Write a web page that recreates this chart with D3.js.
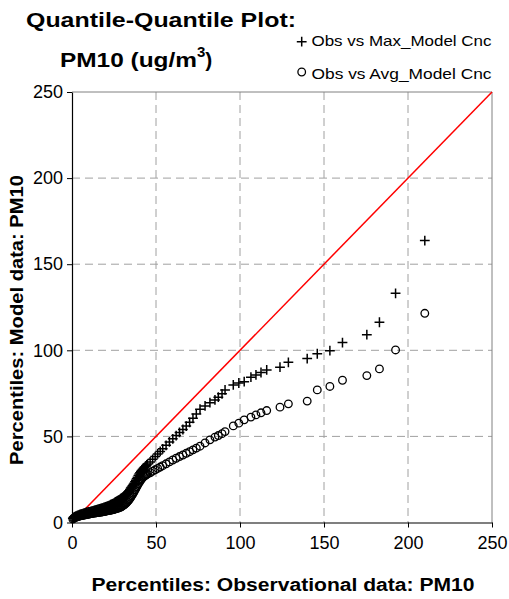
<!DOCTYPE html>
<html>
<head>
<meta charset="utf-8">
<script src="https://cdn.jsdelivr.net/npm/d3@7"></script>
<style>
  body { margin: 0; background: #fff; }
  svg text { font-family: "Liberation Sans", Arial, sans-serif; fill: #000; }
  .grid line { stroke: #a0a0a0; stroke-width: 1; stroke-dasharray: 8,5; }
  .axis path, .axis line { stroke: #000; }
  .axis text { font-size: 18px; }
</style>
</head>
<body>
<div id="chart"></div>
<script>
// observed percentiles (x) and the two model percentile series (y)
var obsPct = [0.5, 1, 1.5, 2, 2.5, 3, 3.5, 4, 4.5, 5, 5.5, 6, 6.5, 7, 7.5, 8, 8.5, 9, 9.5, 10,
	10.5, 11, 11.5, 12, 12.5, 13, 13.5, 14, 14.5, 15, 15.5, 16, 16.5, 17, 17.5, 18, 18.5, 19, 19.5, 20,
	20.5, 21, 21.5, 22, 22.5, 23, 23.5, 24, 24.5, 25, 25.5, 26, 26.5, 27, 27.5, 28, 28.5, 29, 29.5, 30,
	30.5, 31, 31.5, 32, 32.5, 33, 33.5, 34, 34.5, 35, 35.5, 36, 36.5, 37, 37.5, 38, 38.5, 39, 39.5, 40,
	40.5, 41, 41.5, 42, 42.5, 43, 43.5, 44, 44.5, 45,
	46.5, 48, 49.5, 51, 52.5, 54, 56, 58, 60, 62, 64, 66, 68, 70,
	72, 74, 76.2, 79.2, 82.1, 85.1, 87.1, 89.3, 91.1, 96, 99.3, 102.5, 106.5, 109.5, 112.5, 115.9,
	123.8, 128.8, 140, 146, 153.5, 161, 175.5, 183, 192.6, 210];

var maxModel = [2.5, 3.0, 3.2, 3.5, 3.7, 4.0, 4.1, 4.3, 4.5, 4.7, 4.8, 5.0, 5.2, 5.3, 5.5, 5.6, 5.8, 5.9, 6.0, 6.1,
	6.2, 6.3, 6.5, 6.6, 6.8, 6.9, 7.0, 7.1, 7.3, 7.4, 7.6, 7.7, 7.9, 8.0, 8.2, 8.3, 8.5, 8.7, 8.8, 9.0,
	9.2, 9.4, 9.6, 9.8, 10.0, 10.3, 10.5, 10.8, 11.0, 11.3, 11.6, 11.9, 12.2, 12.5, 12.8, 13.1, 13.4, 13.8, 14.1, 14.5,
	14.9, 15.3, 15.8, 16.2, 16.7, 17.3, 17.9, 18.5, 19.2, 20.0, 20.6, 21.3, 22.0, 22.8, 23.6, 24.5, 25.4, 26.3, 27.3, 28.2,
	28.9, 29.6, 30.2, 30.8, 31.4, 31.9, 32.4, 32.9, 33.4, 33.9,
	35.2, 36.7, 38.3, 39.8, 41.3, 42.8, 44.8, 46.8, 48.6, 50.5, 52.3, 54.0, 56.0, 58.2,
	60.5, 63.0, 65.8, 67.7, 69.6, 71.2, 72.8, 74.7, 77.0, 79.9, 81.0, 81.8, 84.4, 85.7, 87.1, 88.6,
	90.2, 93.0, 95.2, 98.0, 99.8, 104.5, 109.1, 116.3, 133.1, 163.7];

var avgModel = [2.0, 2.5, 2.7, 3.0, 3.1, 3.3, 3.5, 3.6, 3.8, 3.9, 4.0, 4.1, 4.2, 4.3, 4.4, 4.5, 4.6, 4.7, 4.8, 4.9,
	5.0, 5.1, 5.2, 5.3, 5.4, 5.5, 5.5, 5.6, 5.7, 5.8, 5.8, 5.9, 6.0, 6.1, 6.1, 6.2, 6.3, 6.4, 6.5, 6.6,
	6.7, 6.8, 6.9, 7.0, 7.1, 7.2, 7.3, 7.4, 7.5, 7.7, 7.8, 8.0, 8.1, 8.3, 8.4, 8.6, 8.8, 9.0, 9.3, 9.6,
	9.9, 10.3, 10.7, 11.1, 11.6, 12.1, 12.7, 13.3, 14.0, 14.7, 15.5, 16.3, 17.1, 18.0, 18.9, 19.8, 20.7, 21.6, 22.5, 23.3,
	24.1, 24.8, 25.4, 26.0, 26.5, 26.9, 27.3, 27.6, 27.9, 28.2,
	28.9, 29.8, 30.6, 31.4, 32.2, 33.0, 34.1, 35.2, 36.3, 37.3, 38.3, 39.2, 40.2, 41.1,
	42.2, 43.2, 44.3, 46.2, 48.0, 49.6, 50.5, 51.6, 52.8, 56.1, 57.7, 59.6, 61.2, 62.5, 63.7, 65.0,
	67.0, 68.9, 70.5, 77.0, 79.0, 82.6, 85.3, 89.2, 100.2, 121.5];

var tickValues = [0, 50, 100, 150, 200, 250];
var gridValues = [50, 100, 150, 200];
var seriesNames = ["Obs vs Max_Model Cnc", "Obs vs Avg_Model Cnc"];

var width = 509, height = 599;
var pLeft = 72, pRight = 492, pTop = 92, pBottom = 522.5;

var svg = d3.select("#chart").append("svg")
	.attr("width", width)
	.attr("height", height);

var x = d3.scaleLinear().domain([0, 250]).range([pLeft, pRight]);
var y = d3.scaleLinear().domain([0, 250]).range([pBottom, pTop]);

// dashed grid
svg.append("g").attr("class", "grid")
	.selectAll(".gx").data(gridValues).enter().append("line")
	.attr("x1", function(d) { return x(d); })
	.attr("x2", function(d) { return x(d); })
	.attr("y1", pTop).attr("y2", pBottom);
svg.append("g").attr("class", "grid")
	.selectAll(".gy").data(gridValues).enter().append("line")
	.attr("y1", function(d) { return y(d); })
	.attr("y2", function(d) { return y(d); })
	.attr("x1", pLeft).attr("x2", pRight);

// grey frame top / right
svg.append("line").attr("x1", pLeft).attr("x2", pRight).attr("y1", pTop).attr("y2", pTop)
	.attr("stroke", "#808080");
svg.append("line").attr("x1", pRight).attr("x2", pRight).attr("y1", pTop).attr("y2", pBottom)
	.attr("stroke", "#808080");

// 1:1 line
svg.append("line")
	.attr("x1", x(0)).attr("y1", y(0))
	.attr("x2", x(250)).attr("y2", y(250))
	.attr("stroke", "#ff0000").attr("stroke-width", 1.5);

var pts = obsPct.map(function(d, i) {
	return { obs: d, max: maxModel[i], avg: avgModel[i] };
});

// circles: obs vs avg
svg.append("g").selectAll("circle").data(pts).enter().append("circle")
	.attr("cx", function(d) { return x(d.obs); })
	.attr("cy", function(d) { return y(d.avg); })
	.attr("r", 3.8)
	.attr("fill", "none")
	.attr("stroke", "#000")
	.attr("stroke-width", 1.3);

// crosses: obs vs max
var cross = function(cx, cy, s) {
	return "M" + (cx - s) + "," + cy + "H" + (cx + s) + "M" + cx + "," + (cy - s) + "V" + (cy + s);
};
svg.append("g").selectAll("path").data(pts).enter().append("path")
	.attr("d", function(d) { return cross(x(d.obs), y(d.max), 4.9); })
	.attr("fill", "none")
	.attr("stroke", "#000")
	.attr("stroke-width", 1.5);

// axes
svg.append("g").attr("class", "axis")
	.attr("transform", "translate(0," + pBottom + ")")
	.call(d3.axisBottom(x).tickValues(tickValues).tickSize(5).tickSizeOuter(0).tickPadding(9));
svg.append("g").attr("class", "axis")
	.attr("transform", "translate(" + pLeft + ",0)")
	.call(d3.axisLeft(y).tickValues(tickValues).tickSize(5).tickSizeOuter(0).tickPadding(4));
svg.selectAll(".axis .domain").attr("stroke-width", 1.2);

// titles
svg.append("text").attr("x", 26).attr("y", 27)
	.attr("font-size", "21px").attr("font-weight", "bold")
	.attr("textLength", 270).attr("lengthAdjust", "spacingAndGlyphs")
	.text("Quantile-Quantile Plot:");
var t2 = svg.append("text").attr("x", 60).attr("y", 67)
	.attr("font-size", "21px").attr("font-weight", "bold");
t2.append("tspan").attr("textLength", 137).attr("lengthAdjust", "spacingAndGlyphs").text("PM10 (ug/m");
t2.append("tspan").attr("font-size", "15px").attr("dy", -10).text("3");
t2.append("tspan").attr("dy", 10).text(")");

svg.append("text")
	.attr("x", 283).attr("y", 591)
	.attr("text-anchor", "middle")
	.attr("font-size", "18px").attr("font-weight", "bold")
	.attr("textLength", 383).attr("lengthAdjust", "spacingAndGlyphs")
	.text("Percentiles: Observational data: PM10");
svg.append("text")
	.attr("transform", "translate(23,320) rotate(-90)")
	.attr("text-anchor", "middle")
	.attr("font-size", "18px").attr("font-weight", "bold")
	.attr("textLength", 290).attr("lengthAdjust", "spacingAndGlyphs")
	.text("Percentiles: Model data: PM10");

// legend
var legend = svg.append("g");
legend.append("path").attr("d", cross(301.7, 41.7, 4.9))
	.attr("stroke", "#000").attr("stroke-width", 1.5).attr("fill", "none");
legend.append("circle").attr("cx", 301.7).attr("cy", 72).attr("r", 3.8)
	.attr("stroke", "#000").attr("stroke-width", 1.3).attr("fill", "none");
legend.selectAll("text").data(seriesNames).enter().append("text")
	.attr("x", 311.5)
	.attr("y", function(d, i) { return i === 0 ? 46 : 78.5; })
	.attr("font-size", "15px")
	.attr("textLength", 180).attr("lengthAdjust", "spacingAndGlyphs")
	.text(function(d) { return d; });
</script>
</body>
</html>
